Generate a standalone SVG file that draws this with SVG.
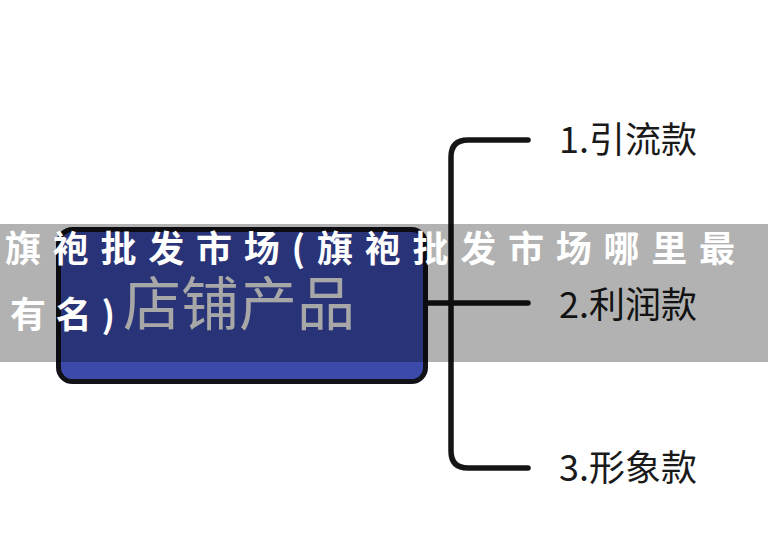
<svg xmlns="http://www.w3.org/2000/svg" width="768" height="556" viewBox="0 0 768 556">
  <style>
    .conn { fill: none; stroke: #151515; stroke-width: 5.5; stroke-linecap: round; stroke-linejoin: round; }
    .label { font-family: "Noto Sans CJK SC", "Noto Sans", sans-serif; font-size: 36px; fill: #1a1a1a; }
    .root-text { font-family: "Noto Sans CJK SC", "Noto Sans", sans-serif; font-size: 58px; fill: #f0f0f0; }
    .banner-text { font-family: "Noto Sans CJK SC", sans-serif; font-size: 36px; font-weight: bold; fill: #ffffff; }
  </style>
  <rect width="768" height="556" fill="#ffffff"/>
  <g id="connectors">
    <path class="conn" d="M427 303 H528"/>
    <path class="conn" d="M528 140 H468 Q451 140 451 157 V451 Q451 468 468 468 H528"/>
  </g>
  <g id="root">
    <rect x="58.5" y="229.5" width="367" height="152" rx="14" ry="14" fill="#3b4aab" stroke="#121218" stroke-width="5"/>
    <text class="root-text" x="123" y="325">店铺产品</text>
  </g>
  <g id="item1">
    <text class="label" x="559" y="153">1.引流款</text>
  </g>
  <g id="item2">
    <text class="label" x="559" y="318">2.利润款</text>
  </g>
  <g id="item3">
    <text class="label" x="559" y="481">3.形象款</text>
  </g>
  <g id="banner">
    <rect x="0" y="224" width="768" height="138" fill="#000000" fill-opacity="0.3"/>
    <text class="banner-text" x="5" y="262" textLength="730" lengthAdjust="spacing">旗袍批发市场(旗袍批发市场哪里最</text>
    <text class="banner-text" x="10" y="328" textLength="105" lengthAdjust="spacing">有名)</text>
  </g>
</svg>
